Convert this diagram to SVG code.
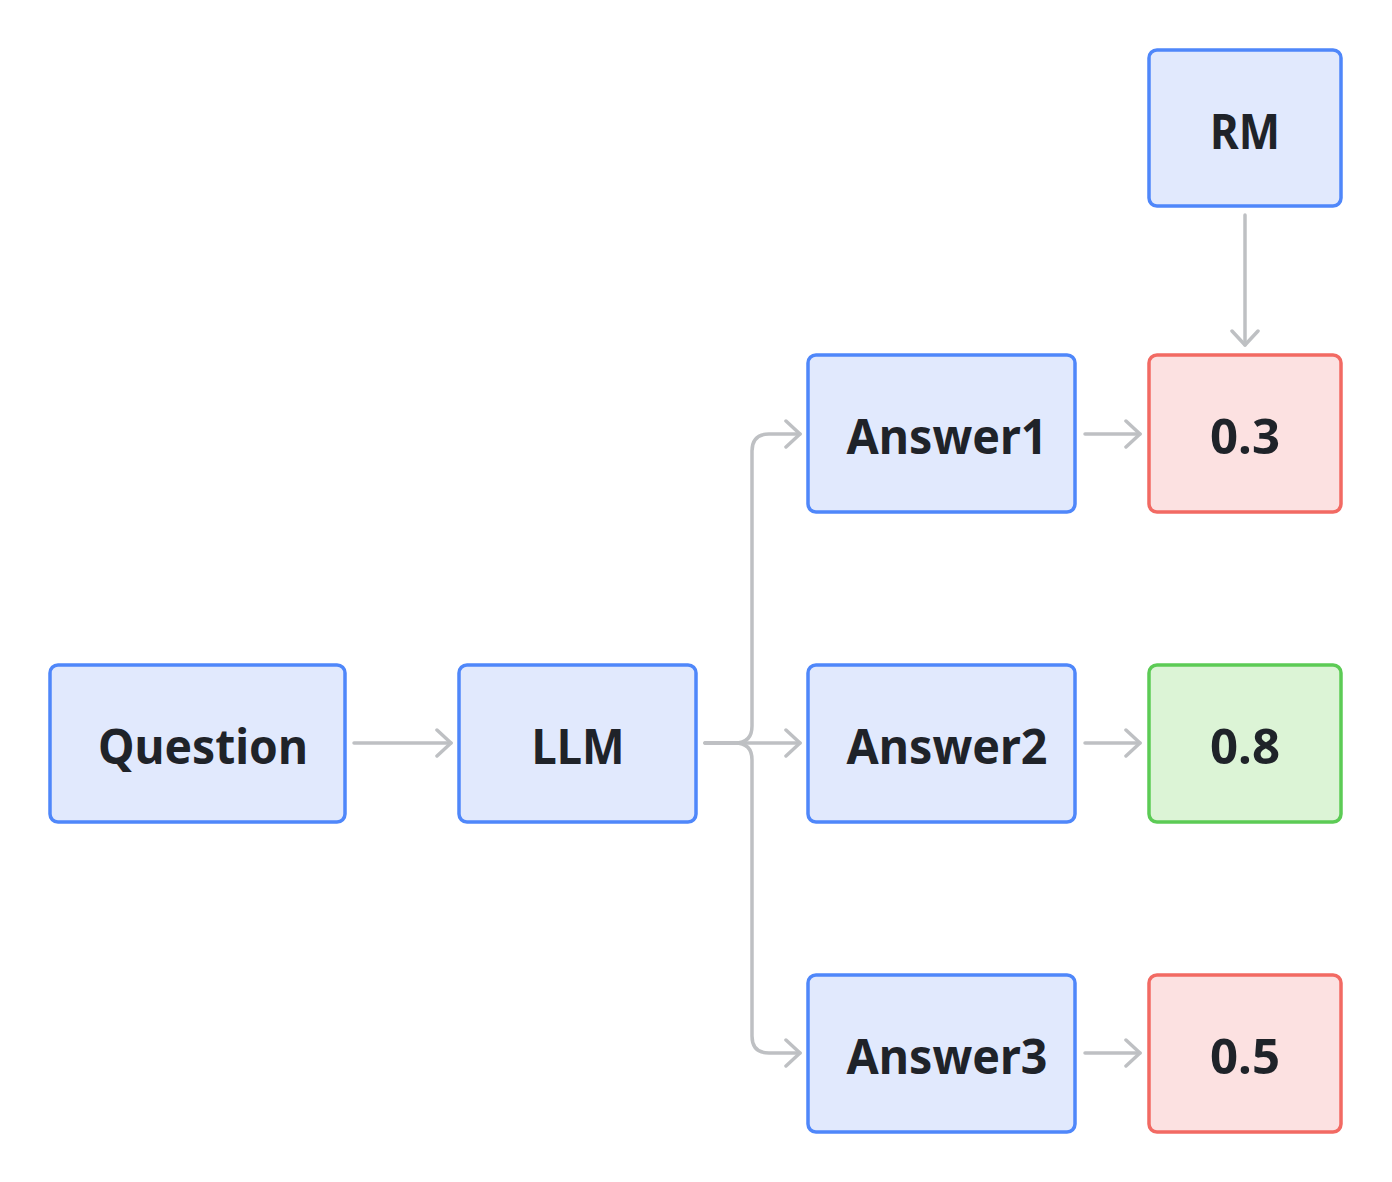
<svg xmlns="http://www.w3.org/2000/svg" width="1392" height="1182" viewBox="0 0 1392 1182">
<style>
.b{fill:#E1E9FD;stroke:#4F87FA;stroke-width:3.5}
.r{fill:#FCE1E1;stroke:#F26A63;stroke-width:3.5}
.g{fill:#DCF4D6;stroke:#5CCB55;stroke-width:3.5}
.t{font-family:"Noto Sans","Open Sans",sans-serif;font-weight:bold;font-size:48px;fill:#1F2329;text-anchor:middle}
.c{fill:none;stroke:#BEC0C3;stroke-width:3.5;stroke-linecap:round;stroke-linejoin:round}
</style>
<defs>
<marker id="a" viewBox="0 0 20 30" refX="17" refY="15" markerWidth="20" markerHeight="30" markerUnits="userSpaceOnUse" orient="auto">
<path d="M3,2 L17,15 L3,28" fill="none" stroke="#BEC0C3" stroke-width="3.5" stroke-linecap="round" stroke-linejoin="round"/>
</marker>
</defs>
<rect width="1392" height="1182" fill="#FFFFFF"/>
<g id="connectors">
<path class="c" d="M354,743 H451" marker-end="url(#a)"/>
<path class="c" d="M705,743 H800" marker-end="url(#a)"/>
<path class="c" d="M705,743 H735 Q752,743 752,726 V451 Q752,434 769,434 H800" marker-end="url(#a)"/>
<path class="c" d="M705,743 H735 Q752,743 752,760 V1036 Q752,1053 769,1053 H800" marker-end="url(#a)"/>
<path class="c" d="M1085,434 H1140" marker-end="url(#a)"/>
<path class="c" d="M1085,743 H1140" marker-end="url(#a)"/>
<path class="c" d="M1085,1053 H1140" marker-end="url(#a)"/>
<path class="c" d="M1245,215 V345" marker-end="url(#a)"/>
</g>
<g id="question"><rect class="b" x="50" y="665" width="295" height="157" rx="8"/><text class="t" x="203" y="764" textLength="210" lengthAdjust="spacingAndGlyphs">Question</text></g>
<g id="llm"><rect class="b" x="459" y="665" width="237" height="157" rx="8"/><text class="t" x="578" y="764" textLength="93" lengthAdjust="spacingAndGlyphs">LLM</text></g>
<g id="answer1"><rect class="b" x="808" y="355" width="267" height="157" rx="8"/><text class="t" x="947" y="454" textLength="201" lengthAdjust="spacingAndGlyphs">Answer1</text></g>
<g id="answer2"><rect class="b" x="808" y="665" width="267" height="157" rx="8"/><text class="t" x="947" y="764" textLength="201" lengthAdjust="spacingAndGlyphs">Answer2</text></g>
<g id="answer3"><rect class="b" x="808" y="975" width="267" height="157" rx="8"/><text class="t" x="947" y="1074" textLength="201" lengthAdjust="spacingAndGlyphs">Answer3</text></g>
<g id="rm"><rect class="b" x="1149" y="50" width="192" height="156" rx="8"/><text class="t" x="1245" y="149" textLength="70" lengthAdjust="spacingAndGlyphs">RM</text></g>
<g id="score1"><rect class="r" x="1149" y="355" width="192" height="157" rx="8"/><text class="t" x="1245" y="454" textLength="70" lengthAdjust="spacingAndGlyphs">0.3</text></g>
<g id="score2"><rect class="g" x="1149" y="665" width="192" height="157" rx="8"/><text class="t" x="1245" y="764" textLength="70" lengthAdjust="spacingAndGlyphs">0.8</text></g>
<g id="score3"><rect class="r" x="1149" y="975" width="192" height="157" rx="8"/><text class="t" x="1245" y="1074" textLength="70" lengthAdjust="spacingAndGlyphs">0.5</text></g>
</svg>
